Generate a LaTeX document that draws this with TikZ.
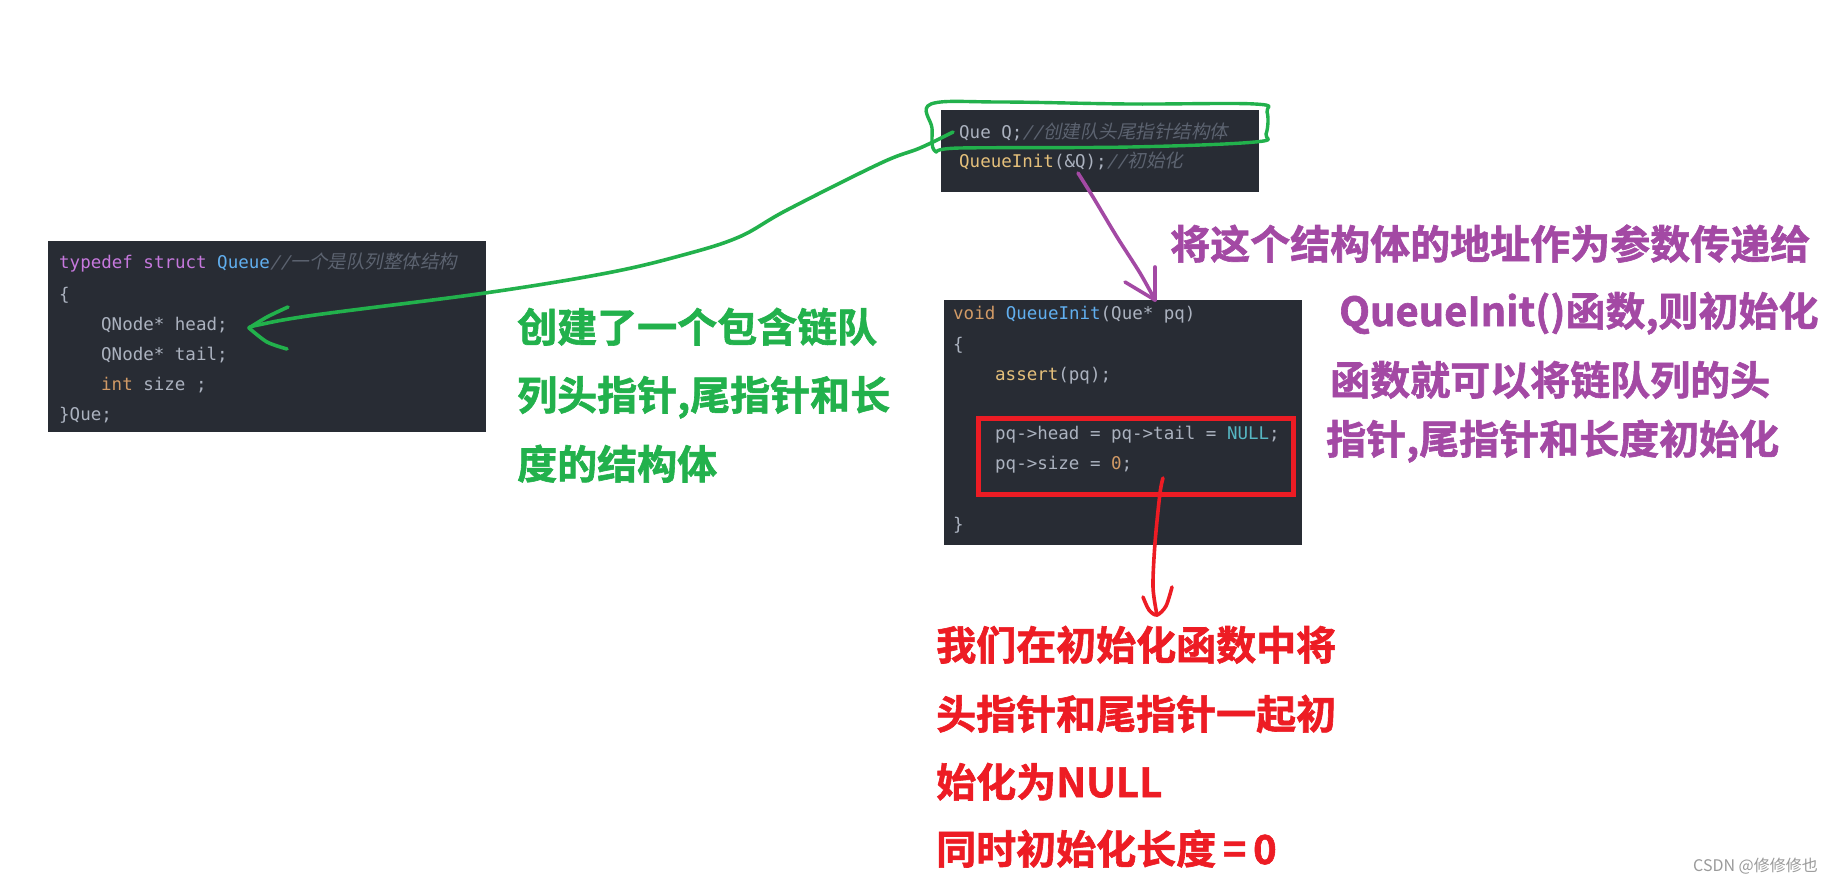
\documentclass[tikz,border=0pt]{standalone}
\usepackage{fontspec}
\newfontfamily\mono{DejaVu Sans Mono}
\newfontfamily\monoit{DejaVu Sans Mono}[FakeSlant=0.2]
\newfontfamily\cjk{Noto Sans CJK SC}[BoldFont={Noto Sans CJK SC Bold}, BoldFeatures={FakeBold=1.5}]
\newfontfamily\cjkit{Noto Sans CJK SC}[FakeSlant=0.2]
\definecolor{codebg}{HTML}{282C34}
\definecolor{plc}{HTML}{ABB2BF}
\definecolor{kwc}{HTML}{C678DD}
\definecolor{tyc}{HTML}{61AFEF}
\definecolor{cmc}{HTML}{5C6370}
\definecolor{orc}{HTML}{D19A66}
\definecolor{yec}{HTML}{E5C07B}
\definecolor{cyc}{HTML}{56B6C2}
\definecolor{pgreen}{HTML}{22B14C}
\definecolor{ppurple}{HTML}{A349A4}
\definecolor{pred}{HTML}{ED1C24}
\definecolor{wmc}{HTML}{9A9A9A}
\newcommand\codekw[1]{{\color{kwc}#1}}
\newcommand\codety[1]{{\color{tyc}#1}}
\newcommand\codeor[1]{{\color{orc}#1}}
\newcommand\codeye[1]{{\color{yec}#1}}
\newcommand\codecy[1]{{\color{cyc}#1}}
\newcommand\codecm[1]{{\color{cmc}\monoit //\cjkit\fontsize{18.5}{20}\selectfont #1}}
\begin{document}
\begin{tikzpicture}[x=1pt,y=-1pt,
  codebox/.style={fill=codebg, draw=none, inner sep=0pt, anchor=north west},
  code/.style={anchor=base west, inner sep=0pt, text=plc, font=\mono\fontsize{17.5}{20}\selectfont},
  big/.style={anchor=base west, inner sep=0pt, font=\cjk\bfseries\fontsize{40}{48}\selectfont},
  hand/.style={line width=3.6pt, line cap=round, line join=round}]
\useasboundingbox[fill=white] (0,0) rectangle (1845,887);

% ---------- code boxes ----------
\node[codebox, minimum width=438pt, minimum height=191pt] (structbox) at (48,241) {};
\node[codebox, minimum width=318pt, minimum height=82pt] (mainbox) at (941,110) {};
\node[codebox, minimum width=358pt, minimum height=245pt] (initfn) at (944,300) {};

% struct box
\node[code] (s1) at (59,268) {\codekw{typedef struct }\codety{Queue}\codecm{一个是队列整体结构}};
\node[code] (s2) at (59,300) {\{};
\node[code] (s3) at (101,330) {QNode* head;};
\node[code] (s4) at (101,360) {QNode* tail;};
\node[code] (s5) at (101,390) {\codeor{int} size ;};
\node[code] (s6) at (59,420) {\}Que;};

% main box
\node[code] (m1) at (959,138) {Que Q;\codecm{创建队头尾指针结构体}};
\node[code] (m2) at (959,167) {\codeye{QueueInit}(\&Q);\codecm{初始化}};

% init function box
\node[code] (f1) at (953,319) {\codeor{void} \codety{QueueInit}(Que* pq)};
\node[code] (f2) at (953,350) {\{};
\node[code] (f3) at (995,380) {\codeye{assert}(pq);};
\node[code] (f4) at (995,439) {pq->head = pq->tail = \codecy{NULL};};
\node[code] (f5) at (995,469) {pq->size = \codeor{0};};
\node[code] (f6) at (953,530) {\}};

% red highlight rectangle
\node[draw=pred, line width=5pt, minimum width=315pt, minimum height=76pt,
      anchor=north west, inner sep=0pt] (hl) at (976,416) {};

% ---------- green annotation ----------
\draw[hand, pgreen, line width=3.4pt] plot[smooth cycle, tension=0.6] coordinates
  {(931,104) (1000,102) (1130,104) (1255,104) (1267,112) (1266,134) (1255,142)
   (1130,147) (960,148) (935,151) (932,128)};
\coordinate (gstart) at (953,132);
\coordinate (gtip) at (249,328);
\draw[hand, pgreen] plot[smooth, tension=0.6] coordinates
  {(gstart) (920,148) (881,163) (787,210) (739,237) (683,255) (607,273)
   (485,293) (315,315) (258,325) (gtip)};
\draw[hand, pgreen] plot[smooth] coordinates {(288,307) (267,317) (gtip)};
\draw[hand, pgreen] plot[smooth] coordinates {(gtip) (267,342) (287,349)};

\node[big, text=pgreen] (g1) at (517,342) {创建了一个包含链队};
\node[big, text=pgreen] (g2) at (517,410) {列头指针,尾指针和长};
\node[big, text=pgreen] (g3) at (517,479) {度的结构体};

% ---------- purple annotation ----------
\coordinate (pstart) at (1078,173);
\coordinate (ptip) at (1155,300);
\draw[hand, ppurple] plot[smooth] coordinates
  {(pstart) (1093,197) (1117,237) (1140,273) (ptip)};
\draw[hand, ppurple] (1125,282) -- (ptip);
\draw[hand, ppurple] (1155,267) -- (ptip);

\node[big, text=ppurple] (p1) at (1170,259) {将这个结构体的地址作为参数传递给};
\node[big, text=ppurple] (p2) at (1339,326) {QueueInit()函数,则初始化};
\node[big, text=ppurple] (p3) at (1330,395) {函数就可以将链队列的头};
\node[big, text=ppurple] (p4) at (1326,454) {指针,尾指针和长度初始化};

% ---------- red annotation ----------
\coordinate (rstart) at (1163,478);
\coordinate (rtip) at (1157,615);
\draw[hand, pred] plot[smooth] coordinates
  {(rstart) (1160,493) (1155,543) (1153,587) (rtip)};
\draw[hand, pred] plot[smooth] coordinates
  {(1143,597) (1149,610) (rtip) (1166,606) (1172,587)};

\node[big, text=pred] (r1) at (936,660) {我们在初始化函数中将};
\node[big, text=pred] (r2) at (936,729) {头指针和尾指针一起初};
\node[big, text=pred] (r3) at (936,797) {始化为NULL};
\node[big, text=pred] (r4) at (936,864) {同时初始化长度\,=\,0};

% watermark
\node[anchor=base west, inner sep=0pt, text=wmc, font=\cjk\fontsize{16}{18}\selectfont]
  (wm) at (1693,871) {CSDN @修修修也};
\end{tikzpicture}
\end{document}
